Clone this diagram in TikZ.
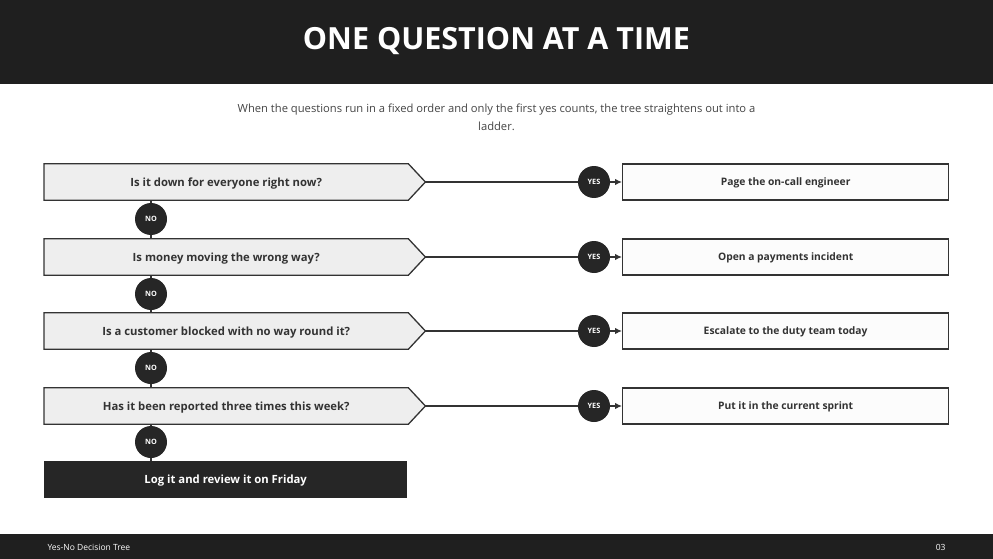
\documentclass[tikz,border=0pt]{standalone}
\usepackage{fontspec}
\setmainfont{Open Sans}
\usetikzlibrary{arrows.meta,calc}
\pgfdeclarelayer{background}
\pgfsetlayers{background,main}
\definecolor{barcol}{HTML}{1F1F1F}
\definecolor{darkfill}{HTML}{262626}
\definecolor{qfill}{HTML}{EEEEEE}
\definecolor{edgecol}{HTML}{333333}
\definecolor{ofill}{HTML}{FCFCFC}
\definecolor{subcol}{HTML}{444444}
\begin{document}
\begin{tikzpicture}[x=1pt,y=-1pt,
  qbox/.style={minimum width=364pt,minimum height=36pt,inner sep=0pt,anchor=west,text depth=0pt,font=\bfseries\fontsize{11.3}{13}\selectfont,text=edgecol},
  qshape/.style={fill=qfill,draw=edgecol,line width=1.3pt,line join=miter},
  obox/.style={draw=edgecol,line width=1.3pt,fill=ofill,minimum width=326pt,minimum height=36pt,inner sep=0pt,anchor=west,text depth=0pt,font=\bfseries\fontsize{10.3}{12}\selectfont,text=edgecol},
  nocirc/.style={circle,fill=darkfill,minimum size=32pt,inner sep=0pt,text=white,text depth=0pt,font=\bfseries\fontsize{7.3}{8}\selectfont},
  link/.style={draw=edgecol,line width=1.2pt},
  arr/.style={link,-{Latex[length=7pt,width=6.5pt]}}
]
\useasboundingbox (0,0) rectangle (993,559);
\fill[barcol] (0,0) rectangle (993,84);
\node[text=white,text depth=0pt,font=\bfseries\fontsize{30.5}{34}\selectfont] (title) at (496.5,38) {ONE QUESTION AT A TIME};
\node[text=subcol,font=\fontsize{11.2}{18}\selectfont,align=center] (sub) at (496.5,117) {When the questions run in a fixed order and only the first yes counts, the tree straightens out into a\\ladder.};
\fill[barcol] (0,534) rectangle (993,559);
\node[text=white,font=\fontsize{8.5}{10}\selectfont,anchor=west] (foot) at (44,547) {Yes-No Decision Tree};
\node[text=white,font=\fontsize{8.5}{10}\selectfont,anchor=east] (page) at (949,547) {03};

% questions
\foreach \i/\y/\q in {1/182/{Is it down for everyone right now?},2/257/{Is money moving the wrong way?},3/331/{Is a customer blocked with no way round it?},4/406/{Has it been reported three times this week?}}{
  \node[qbox] (q\i) at (44,\y) {\q};
  \coordinate (t\i) at ($(q\i.east)+(17,0)$);
  \begin{pgfonlayer}{background}
    \path[qshape] (q\i.north west) -- (q\i.north east) -- (t\i) -- (q\i.south east) -- (q\i.south west) -- cycle;
  \end{pgfonlayer}
}

% outcomes
\node[obox] (o1) at (622,182) {Page the on-call engineer};
\node[obox] (o2) at (622,257) {Open a payments incident};
\node[obox] (o3) at (622,331) {Escalate to the duty team today};
\node[obox] (o4) at (622,406) {Put it in the current sprint};

% final
\node[fill=darkfill,minimum width=363pt,minimum height=37pt,inner sep=0pt,anchor=north west,text depth=0pt,text=white,font=\bfseries\fontsize{11.3}{13}\selectfont] (fin) at (44,461) {Log it and review it on Friday};

% yes circles and links
\foreach \i/\y in {1/182,2/257,3/331,4/406}{
  \node[nocirc] (y\i) at (594,\y) {YES};
  \draw[link] (t\i) -- (y\i);
  \draw[arr] (y\i) -- (o\i);
}
% no circles
\node[nocirc] (n1) at (151,219) {NO};
\node[nocirc] (n2) at (151,294) {NO};
\node[nocirc] (n3) at (151,368) {NO};
\node[nocirc] (n4) at (151,442) {NO};
\draw[link] (q1.south -| n1) -- (n1);
\draw[link] (n1) -- (q2.north -| n1);
\draw[link] (q2.south -| n2) -- (n2);
\draw[link] (n2) -- (q3.north -| n2);
\draw[link] (q3.south -| n3) -- (n3);
\draw[link] (n3) -- (q4.north -| n3);
\draw[link] (q4.south -| n4) -- (n4);
\draw[link] (n4) -- (fin.north -| n4);
\end{tikzpicture}
\end{document}
